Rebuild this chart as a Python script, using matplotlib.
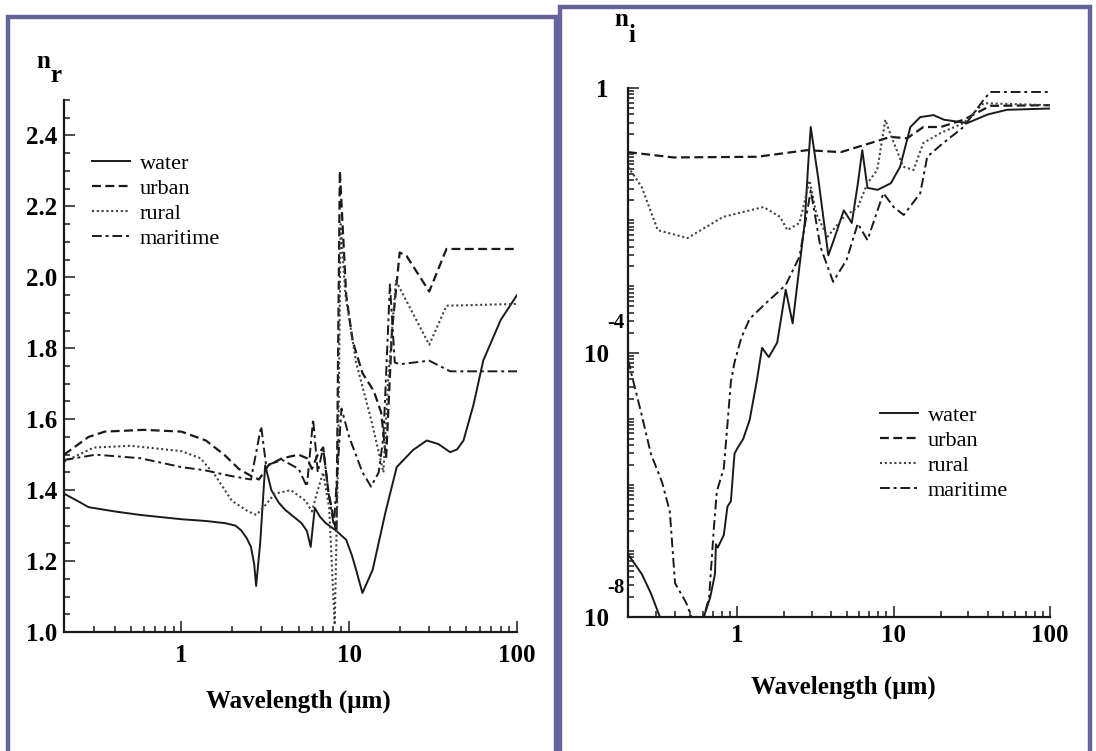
import numpy as np
import matplotlib
matplotlib.use("Agg")
import matplotlib.pyplot as plt
from matplotlib.patches import Rectangle
from matplotlib.ticker import LogLocator, NullFormatter, MultipleLocator
import matplotlib.transforms as mtransforms

# ---- real part n_r (left panel) ----
water_r_x = [0.2, 0.24, 0.28, 0.4, 0.57, 1.0, 1.4, 1.82, 2.1, 2.27, 2.45, 2.6, 2.72, 2.79, 2.95,
             3.16, 3.44, 3.8, 4.17, 5.2, 5.6, 5.9, 6.24, 6.7, 7.25, 8.3, 9.6, 10.4, 11.0, 12.0,
             13.8, 16.5, 19.2, 24, 29, 34, 40, 44, 48, 55, 63, 80, 100]
water_r = [1.39, 1.37, 1.352, 1.34, 1.33, 1.318, 1.313, 1.307, 1.30, 1.287, 1.265, 1.24, 1.19,
           1.13, 1.25, 1.47, 1.40, 1.365, 1.344, 1.307, 1.285, 1.24, 1.35, 1.325, 1.307, 1.287,
           1.26, 1.215, 1.175, 1.11, 1.175, 1.34, 1.465, 1.513, 1.54, 1.53, 1.507, 1.515,
           1.54, 1.64, 1.766, 1.88, 1.95]

urban_r_x = [0.2, 0.28, 0.35, 0.6, 1.0, 1.4, 1.8, 2.2, 2.6, 2.9, 3.1, 3.3, 4.0, 5.0, 5.6, 6.0,
             6.5, 7.0, 7.5, 8.0, 8.4, 8.8, 9.6, 10.5, 12, 14, 15.5, 16.6, 18, 20, 22, 30, 38, 100]
urban_r = [1.50, 1.55, 1.565, 1.57, 1.565, 1.54, 1.50, 1.46, 1.44, 1.43, 1.45, 1.47, 1.49, 1.50,
           1.49, 1.46, 1.50, 1.52, 1.40, 1.33, 1.28, 2.30, 1.95, 1.82, 1.73, 1.68, 1.62, 1.49,
           1.85, 2.07, 2.06, 1.96, 2.08, 2.08]

rural_r_x = [0.2, 0.3, 0.5, 1.0, 1.3, 1.6, 2.0, 2.5, 2.8, 3.2, 3.6, 4.5, 5.5, 6.0, 6.5, 7.0,
             7.6, 8.2, 8.6, 8.9, 9.5, 11, 13.5, 15.3, 16, 17, 19, 30, 38, 100]
rural_r = [1.48, 1.52, 1.525, 1.51, 1.49, 1.44, 1.37, 1.34, 1.33, 1.36, 1.39, 1.40, 1.37, 1.34,
           1.40, 1.45, 1.35, 1.02, 1.50, 2.15, 1.95, 1.76, 1.60, 1.49, 1.45, 1.70, 1.99, 1.81,
           1.92, 1.925]

mar_r_x = [0.2, 0.31, 0.57, 1.0, 1.38, 1.97, 2.6, 2.99, 3.2, 4.0, 5.0, 5.6, 6.1, 6.5, 7.0, 7.6,
           8.1, 8.5, 9.0, 10, 12, 13.5, 15, 16, 17.5, 18.7, 20, 30, 40, 100]
mar_r = [1.485, 1.50, 1.49, 1.465, 1.456, 1.44, 1.43, 1.58, 1.47, 1.485, 1.46, 1.41, 1.60, 1.45,
         1.52, 1.38, 1.30, 1.45, 1.63, 1.55, 1.45, 1.41, 1.45, 1.55, 1.98, 1.76, 1.755, 1.765,
         1.735, 1.735]

# ---- imaginary part n_i (right panel), log10 values ----
water_i_x = [0.2, 0.245, 0.28, 0.32, 0.45, 0.61, 0.67, 0.72, 0.73, 0.75, 0.82, 0.865, 0.91,
             0.96, 1.0, 1.09, 1.2, 1.33, 1.44, 1.59, 1.8, 2.04, 2.26, 2.5, 2.7, 2.84, 2.95,
             3.3, 3.82, 4.1, 4.8, 5.4, 5.9, 6.3, 6.8, 7.9, 9.6, 11, 12.8, 14.8, 18, 21, 29.6,
             40, 53, 100]
water_i_log = [-7.05, -7.35, -7.64, -8.0, -8.0, -8.0, -7.71, -7.35, -6.9, -6.95, -6.76, -6.33,
               -6.25, -5.53, -5.45, -5.31, -5.02, -4.44, -3.93, -4.07, -3.85, -3.05, -3.56,
               -2.69, -2.04, -1.16, -0.59, -1.38, -2.53, -2.33, -1.85, -2.04, -1.45, -0.94,
               -1.51, -1.54, -1.44, -1.19, -0.59, -0.44, -0.41, -0.48, -0.53, -0.40, -0.33, -0.31]

urban_i_x = [0.2, 0.39, 1.34, 2.8, 4.6, 7.4, 9.5, 12.2, 15.5, 20, 28, 41.5, 100]
urban_i_log = [-0.97, -1.05, -1.04, -0.94, -0.97, -0.82, -0.74, -0.76, -0.59, -0.59, -0.48,
               -0.27, -0.26]

rural_i_x = [0.2, 0.245, 0.31, 0.48, 0.81, 1.47, 1.88, 2.09, 2.5, 2.9, 3.2, 3.77, 4.8, 5.9,
             6.8, 7.85, 8.85, 9.3, 11.5, 13.4, 15.5, 20, 28, 37.6, 100]
rural_i_log = [-1.19, -1.5, -2.15, -2.27, -1.95, -1.80, -1.95, -2.15, -2.04, -1.40, -1.9,
               -2.25, -1.95, -1.80, -1.44, -1.24, -0.48, -0.63, -1.19, -1.24, -0.83, -0.68,
               -0.53, -0.23, -0.26]

mar_i_x = [0.2, 0.245, 0.28, 0.33, 0.37, 0.40, 0.47, 0.51, 0.61, 0.66, 0.71, 0.74, 0.82, 0.86,
           0.91, 0.96, 1.06, 1.2, 1.5, 2.04, 2.5, 2.95, 3.4, 4.1, 5.0, 5.9, 6.8, 8.6, 10, 11.6,
           14.8, 16.4, 20.8, 28, 37.6, 41.5, 100]
mar_i_log = [-4.11, -4.95, -5.53, -5.96, -6.4, -7.49, -7.78, -8.0, -8.0, -7.71, -6.62, -6.1,
             -5.75, -5.16, -4.44, -4.15, -3.78, -3.49, -3.27, -2.98, -2.55, -1.55, -2.4, -2.93,
             -2.6, -2.05, -2.3, -1.59, -1.80, -1.92, -1.59, -1.04, -0.83, -0.59, -0.18, -0.06,
             -0.06]

labels = ["water", "urban", "rural", "maritime"]
nr_ticks = [1.0, 1.2, 1.4, 1.6, 1.8, 2.0, 2.2, 2.4]
x_ticks = [1, 10, 100]
ni_ticks = [1e-8, 1e-4, 1]
ni_ticklabels = ["10", "10", "1"]
ni_exponents = ["-8", "-4"]

serif = ["Liberation Serif", "DejaVu Serif"]
plt.rcParams["font.family"] = serif
ink = "#1a1a1a"
styles = [dict(ls="-", lw=1.4, color=ink),
          dict(ls=(0, (4, 2)), lw=1.6, color=ink),
          dict(ls=(0, (1, 1.3)), lw=1.5, color="#404040"),
          dict(ls=(0, (5, 2, 1.5, 2)), lw=1.4, color=ink)]

W, H = 1096, 751
fig = plt.figure(figsize=(W / 100, H / 100), dpi=100)
fig.patch.set_facecolor("white")

def px_axes(l, t, r, b):
    return fig.add_axes([l / W, 1 - b / H, (r - l) / W, (b - t) / H])

def style_axes(ax, ypad, xpad):
    for s in ["top", "right"]:
        ax.spines[s].set_visible(False)
    for s in ["left", "bottom"]:
        ax.spines[s].set_linewidth(1.6)
        ax.spines[s].set_color(ink)
    ax.set_xscale("log")
    ax.set_xlim(0.2, 100)
    ax.set_xticks(x_ticks, [str(v) for v in x_ticks])
    ax.xaxis.set_minor_locator(LogLocator(base=10, subs=np.arange(2, 10), numticks=50))
    ax.xaxis.set_minor_formatter(NullFormatter())
    ax.tick_params(which="both", direction="in", color=ink, width=1.1)
    ax.tick_params(which="major", length=8)
    ax.tick_params(which="minor", length=4.5)
    ax.tick_params(axis="x", which="major", pad=xpad, labelsize=18)
    ax.tick_params(axis="y", which="major", pad=ypad, labelsize=18)
    for lab in ax.get_xticklabels() + ax.get_yticklabels():
        lab.set_fontweight("bold")

# ---------------- left panel ----------------
ax1 = px_axes(64, 100, 517, 632)
series_r = [(water_r_x, water_r), (urban_r_x, urban_r), (rural_r_x, rural_r), (mar_r_x, mar_r)]
for (x, y), st, lab in zip(series_r, styles, labels):
    ax1.plot(x, y, label=lab, **st)
ax1.set_ylim(1.0, 2.5)
ax1.set_yticks(nr_ticks, [f"{v:.1f}" for v in nr_ticks])
ax1.yaxis.set_minor_locator(MultipleLocator(0.05))
style_axes(ax1, ypad=5, xpad=9)
ax1.set_xlabel("Wavelength (\u00b5m)", fontsize=18, fontweight="bold")
ax1.xaxis.set_label_coords(0.517, -0.108)
ax1.legend(loc="upper left", bbox_to_anchor=(0.062, 0.90), frameon=False, fontsize=16,
           handlelength=1.7, handletextpad=0.45, labelspacing=0.2, borderpad=0,
           borderaxespad=0)

# ---------------- right panel ----------------
ax2 = px_axes(628, 88, 1050, 617)
series_i = [(water_i_x, water_i_log), (urban_i_x, urban_i_log),
            (rural_i_x, rural_i_log), (mar_i_x, mar_i_log)]
for (x, ylog), st, lab in zip(series_i, styles, labels):
    ax2.plot(x, 10.0 ** np.array(ylog), label=lab, **st)
ax2.set_yscale("log")
ax2.set_ylim(1e-8, 1)
style_axes(ax2, ypad=14, xpad=5)
ax2.set_yticks(ni_ticks, ni_ticklabels)
ax2.yaxis.set_minor_locator(LogLocator(base=10, subs=np.arange(1, 10), numticks=100))
ax2.yaxis.set_minor_formatter(NullFormatter())
for lab in ax2.get_yticklabels():
    lab.set_fontweight("bold")
trans = mtransforms.blended_transform_factory(ax2.transAxes, ax2.transData)
for val, ex in zip(ni_ticks[:2], ni_exponents):
    ax2.annotate(ex, xy=(0, val), xycoords=trans, xytext=(-9, 21), textcoords="offset points",
                 fontsize=15, fontweight="bold", ha="center", va="center", annotation_clip=False)
ax2.set_xlabel("Wavelength (\u00b5m)", fontsize=18, fontweight="bold")
ax2.xaxis.set_label_coords(0.51, -0.11)
ax2.legend(loc="upper left", bbox_to_anchor=(0.597, 0.40), frameon=False, fontsize=16,
           handlelength=1.7, handletextpad=0.45, labelspacing=0.2, borderpad=0,
           borderaxespad=0)

# axis name labels n_r and n_i
fig.text(43 / W, 1 - 62 / H, "n", fontsize=18, fontweight="bold", ha="center", va="center")
fig.text(56 / W, 1 - 76 / H, "r", fontsize=18, fontweight="bold", ha="center", va="center")
fig.text(621 / W, 1 - 20 / H, "n", fontsize=18, fontweight="bold", ha="center", va="center")
fig.text(632 / W, 1 - 36 / H, "i", fontsize=18, fontweight="bold", ha="center", va="center")

# slide frames
frame_col = "#64649c"
fig.patches.append(Rectangle((8 / W, -0.02), 548 / W, 1.02 - 17 / H, transform=fig.transFigure,
                             fill=False, edgecolor=frame_col, lw=3.2, zorder=0))
fig.patches.append(Rectangle((560 / W, -0.02), 530 / W, 1.02 - 7 / H, transform=fig.transFigure,
                             fill=False, edgecolor=frame_col, lw=3.2, zorder=0))

fig.savefig("out.png", dpi=100)
